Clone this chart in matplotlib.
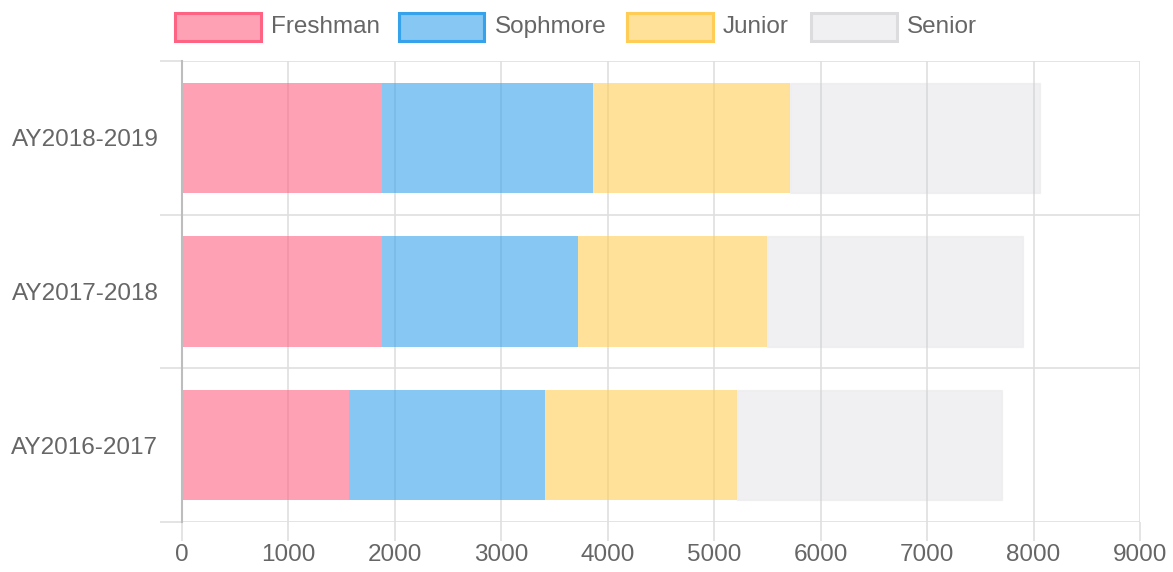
import matplotlib
matplotlib.use("Agg")
import matplotlib.pyplot as plt
from matplotlib.patches import Rectangle
import numpy as np

plt.rcParams['font.family'] = ['Liberation Sans', 'DejaVu Sans']

# data
years = ['AY2016-2017', 'AY2017-2018', 'AY2018-2019']
classes = ['Freshman', 'Sophmore', 'Junior', 'Senior']
freshman = [1570, 1880, 1880]
sophmore = [1842, 1842, 1983]
junior = [1804, 1776, 1851]
senior = [2491, 2406, 2350]
series = [freshman, sophmore, junior, senior]
xticks = list(range(0, 9001, 1000))

# chart.js-ish palette: (base colour, fill alpha)
base = ['#ff6384', '#36a2eb', '#ffcd56', '#c9cbd3']
alphas = [0.6, 0.6, 0.6, 0.27]
edge = ['none', 'none', 'none', '#dcdcde']
legend_edge = ['#ff6384', '#36a2eb', '#ffcd56', '#dcdcde']

W, H = 1173, 572
fig = plt.figure(figsize=(W / 100, H / 100), dpi=100)
ax = fig.add_axes([182 / W, (H - 522) / H, (1140 - 182) / W, (522 - 61) / H])

txt = '#666666'
grid = '#dfdfdf'
fs = 17.5

y = np.arange(len(years))
left = np.zeros(len(years))
for vals, c, a, e in zip(series, base, alphas, edge):
    ax.barh(y, vals, left=left, height=0.72, color=c, alpha=a,
            edgecolor=e, linewidth=1, zorder=2)
    left += np.array(vals)

ax.set_xlim(0, 9000)
ax.set_ylim(-0.5, len(years) - 0.5)
ax.set_xticks(xticks)
ax.set_xticklabels([str(t) for t in xticks])
ax.set_yticks(y)
ax.set_yticklabels(years)
ax.set_yticks(np.arange(-0.5, len(years), 1.0), minor=True)

ax.set_axisbelow(True)
ax.grid(axis='x', which='major', color=grid, linewidth=1.2)
ax.grid(axis='y', which='minor', color=grid, linewidth=1.2)

ax.tick_params(axis='x', which='major', length=14, color=grid, width=1.2,
               labelsize=fs, labelcolor=txt, pad=2)
ax.tick_params(axis='y', which='major', length=0, labelsize=fs,
               labelcolor=txt, pad=17)
ax.tick_params(axis='y', which='minor', length=16, color=grid, width=1.2)

for s in ['top', 'right', 'bottom']:
    ax.spines[s].set_visible(False)
ax.spines['left'].set_color('#bdbdbd')
ax.spines['left'].set_linewidth(1.5)
ax.spines['left'].set_zorder(3)

# legend along the top, drawn by hand like chart.js does
box_x = [173, 397, 625, 809]
for name, bx, c, a, ec in zip(classes, box_x, base, alphas, legend_edge):
    fig.add_artist(Rectangle(((bx + 1.5) / W, (H - 41) / H), 86 / W, 28 / H,
                             transform=fig.transFigure, facecolor=c, alpha=a,
                             edgecolor='none'))
    fig.add_artist(Rectangle(((bx + 1.5) / W, (H - 41) / H), 86 / W, 28 / H,
                             transform=fig.transFigure, facecolor='none',
                             edgecolor=ec, linewidth=2.2))
    fig.text((bx + 98) / W, (H - 27) / H, name, fontsize=fs, color=txt,
             va='center', ha='left')

fig.savefig('out.png', dpi=100)
